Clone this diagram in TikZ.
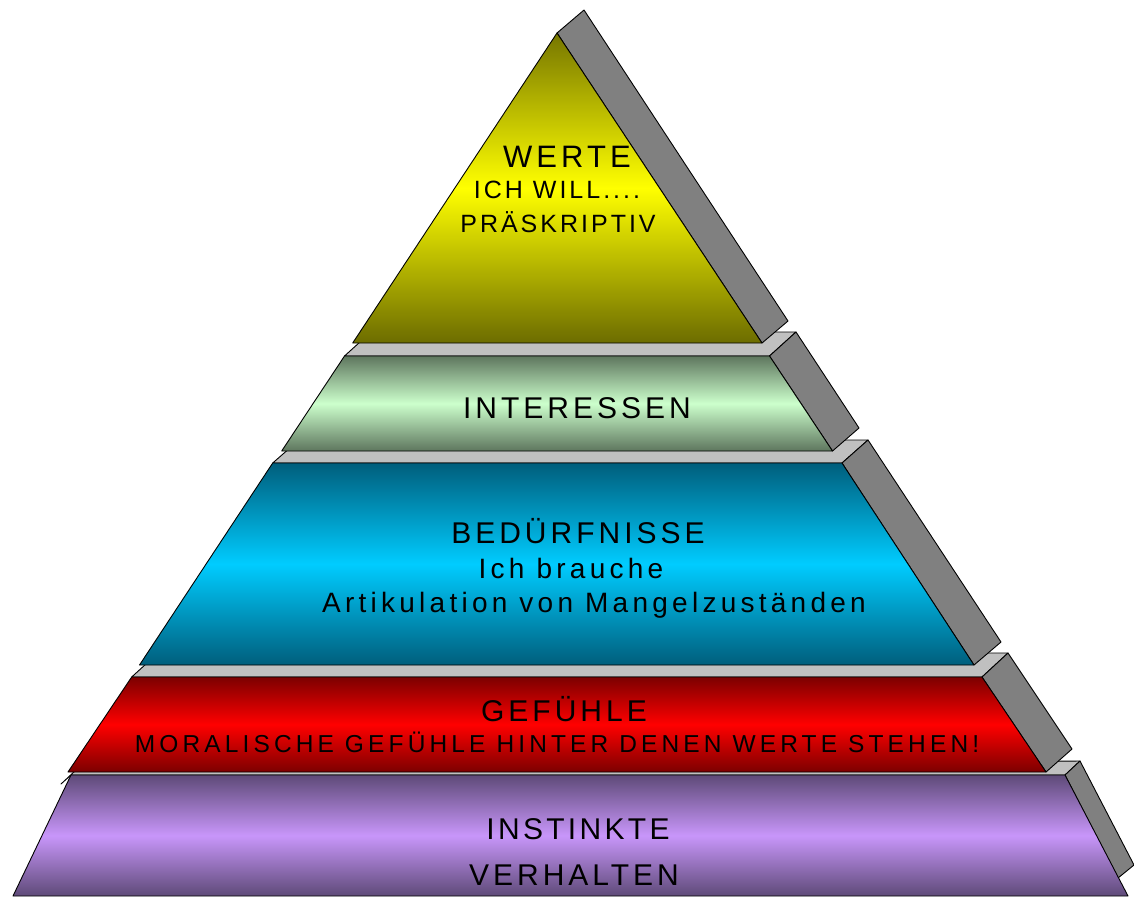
\documentclass[tikz,border=0pt]{standalone}
\usepackage{fontspec}
\setmainfont{Liberation Sans}
\newfontfamily\trackA[LetterSpace=13.3]{Liberation Sans}
\newfontfamily\trackB[LetterSpace=15.2]{Liberation Sans}
\newfontfamily\trackC[LetterSpace=12]{Liberation Sans}
\newfontfamily\trackD[LetterSpace=16.9]{Liberation Sans}
\newfontfamily\trackE[LetterSpace=11]{Liberation Sans}
\definecolor{topgray}{RGB}{192,192,192}
\definecolor{sidegray}{RGB}{128,128,128}
\definecolor{ylwdark}{RGB}{118,118,0}
\definecolor{ylwdarkb}{RGB}{108,108,0}
\definecolor{ylwlight}{RGB}{255,255,0}
\definecolor{grndark}{RGB}{94,118,94}
\definecolor{grnlight}{RGB}{204,255,204}
\definecolor{tealdark}{RGB}{0,94,124}
\definecolor{teallight}{RGB}{0,204,255}
\definecolor{reddark}{RGB}{124,0,0}
\definecolor{redlight}{RGB}{255,0,0}
\definecolor{purpdark}{RGB}{94,74,120}
\definecolor{purplight}{RGB}{200,150,250}
\tikzset{
  edge/.style={draw=black,line width=0.9pt,line join=round},
  topface/.style={edge,fill=topgray},
  sideface/.style={edge,fill=sidegray},
  frontface/.style={edge,top color=#1dark,bottom color=#1dark,middle color=#1light},
  lbl/.style={inner sep=0pt,anchor=base,text=black},
  bigA/.style={lbl,font=\trackA\fontsize{30}{32}\selectfont},
  bigW/.style={lbl,font=\trackA\fontsize{31}{33}\selectfont},
  bigI/.style={lbl,font=\trackE\fontsize{30}{32}\selectfont},
  bigB/.style={lbl,font=\trackB\fontsize{28}{30}\selectfont},
  smallC/.style={lbl,font=\trackC\fontsize{25}{27}\selectfont},
  smallD/.style={lbl,font=\trackD\fontsize{24.5}{26}\selectfont},
}
\begin{document}
\begin{tikzpicture}[x=1pt,y=-1pt]
\useasboundingbox (0,0) rectangle (1134,898);
% ---------- INSTINKTE (purple) ----------
\path[topface] (61,784) -- (76,770) -- (1080,761) -- (1065,775) -- (71,775) -- cycle;
\path[sideface] (1065,775) -- (1080,761) -- (1134,865) -- (1118,878) -- cycle;
\path[frontface=purp] (71,775) -- (1065,775) -- (1128,896) -- (13,896) -- cycle;
% ---------- GEFUEHLE (red) ----------
\path[topface] (131.7,677) -- (158,653) -- (1008,653) -- (982,677) -- cycle;
\path[sideface] (982,677) -- (1008,653) -- (1072,749) -- (1046,772) -- cycle;
\path[frontface=red] (131.7,677) -- (982,677) -- (1046,772) -- (68,772) -- cycle;
% ---------- BEDUERFNISSE (teal) ----------
\path[topface] (272.7,463) -- (299,440) -- (868,440) -- (842,463) -- cycle;
\path[sideface] (842,463) -- (868,440) -- (1001,642) -- (974,665) -- cycle;
\path[frontface=teal] (272.7,463) -- (842,463) -- (974,665) -- (139.5,665) -- cycle;
% ---------- INTERESSEN (green) ----------
\path[topface] (344.5,356) -- (371,332) -- (796,332) -- (769.5,356) -- cycle;
\path[sideface] (769.5,356) -- (796,332) -- (859,428) -- (832.5,451) -- cycle;
\path[frontface=grn] (344.5,356) -- (769.5,356) -- (832.5,451) -- (281.7,451) -- cycle;
% ---------- WERTE (yellow) ----------
\path[sideface] (557,33) -- (584,10) -- (788,321) -- (762,343) -- cycle;
\path[edge,top color=ylwdark,bottom color=ylwdarkb,middle color=ylwlight] (557,33) -- (762,343) -- (352.7,343) -- cycle;
% ---------- labels ----------
\node[bigW] (werte) at (567,167.5) {WERTE};
\node[smallC] (will) at (557,198) {ICH WILL....};
\node[smallC] (praes) at (558,232) {PRÄSKRIPTIV};
\node[bigA] (inter) at (577,418) {INTERESSEN};
\node[bigA] (bed) at (578,543) {BEDÜRFNISSE};
\node[bigB] (brauche) at (571,578) {Ich brauche};
\node[bigB] (artik) at (594,612) {Artikulation von Mangelzuständen};
\node[bigA] (gef) at (564,721) {GEFÜHLE};
\node[smallD] (moral) at (557,752) {MORALISCHE GEFÜHLE HINTER DENEN WERTE STEHEN!};
\node[bigI] (inst) at (578,839) {INSTINKTE};
\node[bigA] (verh) at (574,885.5) {VERHALTEN};
\end{tikzpicture}
\end{document}
